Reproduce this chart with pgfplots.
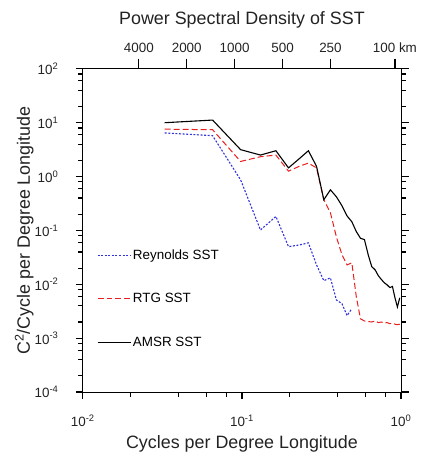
\documentclass[border=0pt]{standalone}
\usepackage{fontspec}
\setmainfont{Liberation Sans}
\usepackage{pgfplots}
\usepackage{pgfplotstable}
\pgfplotsset{compat=1.18}
\definecolor{reyblue}{RGB}{50,50,220}
\definecolor{rtgred}{RGB}{235,30,30}
\definecolor{txt}{RGB}{35,35,35}

\pgfplotstableread{
x      amsr     rtg      reyn
0.0327 10.0     7.59     6.46
0.0654 11.2     7.41     5.75
0.0981 3.16     1.91     0.871
0.1308 2.51     2.34     0.102
0.1635 3.02     2.51     0.182
0.1962 1.45     1.26     0.0501
0.2289 2.14     1.55     0.0537
0.2616 3.02     1.78     0.0589
0.2943 1.55     1.45     0.0229
0.3270 0.372    0.372    0.0117
0.3597 0.569    0.214    0.0132
0.3924 0.422    0.0759   0.00513
0.4251 0.288    0.0355   0.00437
0.4578 0.186    0.0229   0.00263
0.4905 0.145    0.0251   0.00355
0.5232 0.0955   0.00589  nan
0.5559 0.0716   0.00229  nan
0.5886 0.0676   0.00209  nan
0.6213 0.0355   0.00204  nan
0.6540 0.0214   0.00200  nan
0.6867 0.0186   0.00209  nan
0.7194 0.0145   0.00195  nan
0.7521 0.0123   0.00200  nan
0.7848 0.0107   0.00191  nan
0.8175 0.00977  0.00195  nan
0.8502 0.00871  0.00186  nan
0.8829 0.00912  0.00191  nan
0.9156 0.00562  0.00182  nan
0.9483 0.00380  0.00178  nan
0.9810 0.00562  0.00182  nan
}\spectra

\begin{document}
\begin{tikzpicture}
\begin{axis}[
  scale only axis, width=319bp, height=324bp,
  xmode=log, ymode=log,
  xmin=0.01, xmax=1, ymin=1e-4, ymax=1e2,
  clip=false,
  axis line style={line width=1bp},
  tick align=outside,
  xtick pos=bottom, ytick pos=both, yticklabel pos=left,
  major tick length=7bp, minor tick length=4bp,
  tick style={line width=1.2bp, black},
  xtick={0.01,0.1,1},
  xticklabels={10\textsuperscript{-2},10\textsuperscript{-1},10\textsuperscript{0}},
  minor xtick={0.02,0.04,0.06,0.08,0.2,0.4,0.6,0.8},
  ytick={1e-4,1e-3,1e-2,1e-1,1,10,100},
  yticklabels={10\textsuperscript{-4},10\textsuperscript{-3},10\textsuperscript{-2},10\textsuperscript{-1},10\textsuperscript{0},10\textsuperscript{1},10\textsuperscript{2}},
  minor ytick={2e-4,4e-4,6e-4,8e-4,2e-3,4e-3,6e-3,8e-3,2e-2,4e-2,6e-2,8e-2,0.2,0.4,0.6,0.8,2,4,6,8,20,40,60,80},
  tick label style={font=\fontsize{13.5}{15}\selectfont, text=txt},
  xticklabel style={yshift=-12bp},
  yticklabel style={xshift=-14bp},
  xlabel={Cycles per Degree Longitude},
  ylabel={C\textsuperscript{2}/Cycle per Degree Longitude},
  label style={font=\fontsize{18}{20}\selectfont, text=txt},
  xlabel style={at={(axis description cs:0.5,-0.176)}, anchor=base},
  ylabel style={at={(axis description cs:-0.166,0.5)}, anchor=base, rotate=0},
  title={Power Spectral Density of SST},
  title style={at={(axis description cs:0.5,1.118)}, anchor=base, font=\fontsize{18}{20}\selectfont, text=txt},
  legend style={at={(axis description cs:0.0439,0.2886)}, anchor=west,
    draw=none, fill=none, inner sep=0pt, row sep=30.5bp,
    font=\fontsize{13.5}{15}\selectfont,
    nodes={inner sep=1bp}},
  legend cell align=left,
  legend image code/.code={\draw[#1] (0bp,0bp) -- (34bp,0bp);},
]
\addplot[reyblue, line width=1.1bp, dash pattern=on 2bp off 1.6bp] table[x=x, y=reyn] {\spectra};
\addlegendentry{Reynolds SST}
\addplot[rtgred, line width=1bp, dash pattern=on 6bp off 3bp] table[x=x, y=rtg] {\spectra};
\addlegendentry{RTG SST}
\addplot[black, line width=1.1bp] table[x=x, y=amsr] {\spectra};
\addlegendentry{AMSR SST}
% tick marks (outward)
\pgfplotsinvokeforeach{0.01,0.1,1}{
  \draw[black, line width=1.2bp] (axis cs:#1,1e-4) -- ++(0bp,-7bp);}
\pgfplotsinvokeforeach{0.02,0.04,0.06,0.08,0.2,0.4,0.6,0.8}{
  \draw[black, line width=1.2bp] (axis cs:#1,1e-4) -- ++(0bp,-5bp);}
\pgfplotsinvokeforeach{1e-4,1e-3,1e-2,1e-1,1,10,100}{
  \draw[black, line width=1.2bp] (axis cs:0.01,#1) -- ++(-7bp,0bp);
  \draw[black, line width=1.2bp] (axis cs:1,#1) -- ++(8bp,0bp);}
\pgfplotsinvokeforeach{2e-4,4e-4,6e-4,8e-4,2e-3,4e-3,6e-3,8e-3,2e-2,4e-2,6e-2,8e-2,0.2,0.4,0.6,0.8,2,4,6,8,20,40,60,80}{
  \draw[black, line width=1.2bp] (axis cs:0.01,#1) -- ++(-4.5bp,0bp);
  \draw[black, line width=1.2bp] (axis cs:1,#1) -- ++(4.5bp,0bp);}
\end{axis}
\begin{axis}[
  scale only axis, width=319bp, height=324bp,
  xmin=-2, xmax=0, ymin=0, ymax=1,
  clip=false,
  hide y axis,
  axis line style={line width=1bp},
  tick align=outside,
  xtick pos=top, xticklabel pos=top,
  major tick length=10bp,
  tick style={line width=1.2bp, black},
  xtick={-1.6478,-1.3468,-1.0458,-0.7447,-0.4437,-0.0386},
  xticklabels={4000,2000,1000,500,250,100 km},
  tick label style={font=\fontsize{13.5}{15}\selectfont, text=txt},
  xticklabel style={yshift=3bp},
]
\pgfplotsinvokeforeach{-1.6478,-1.3468,-1.0458,-0.7447,-0.4437,-0.0386}{
  \draw[black, line width=1.2bp] (axis cs:#1,1) -- ++(0bp,10bp);}
\end{axis}
\path (-83bp,-63bp) rectangle (340bp,393bp);
\end{tikzpicture}
\end{document}
